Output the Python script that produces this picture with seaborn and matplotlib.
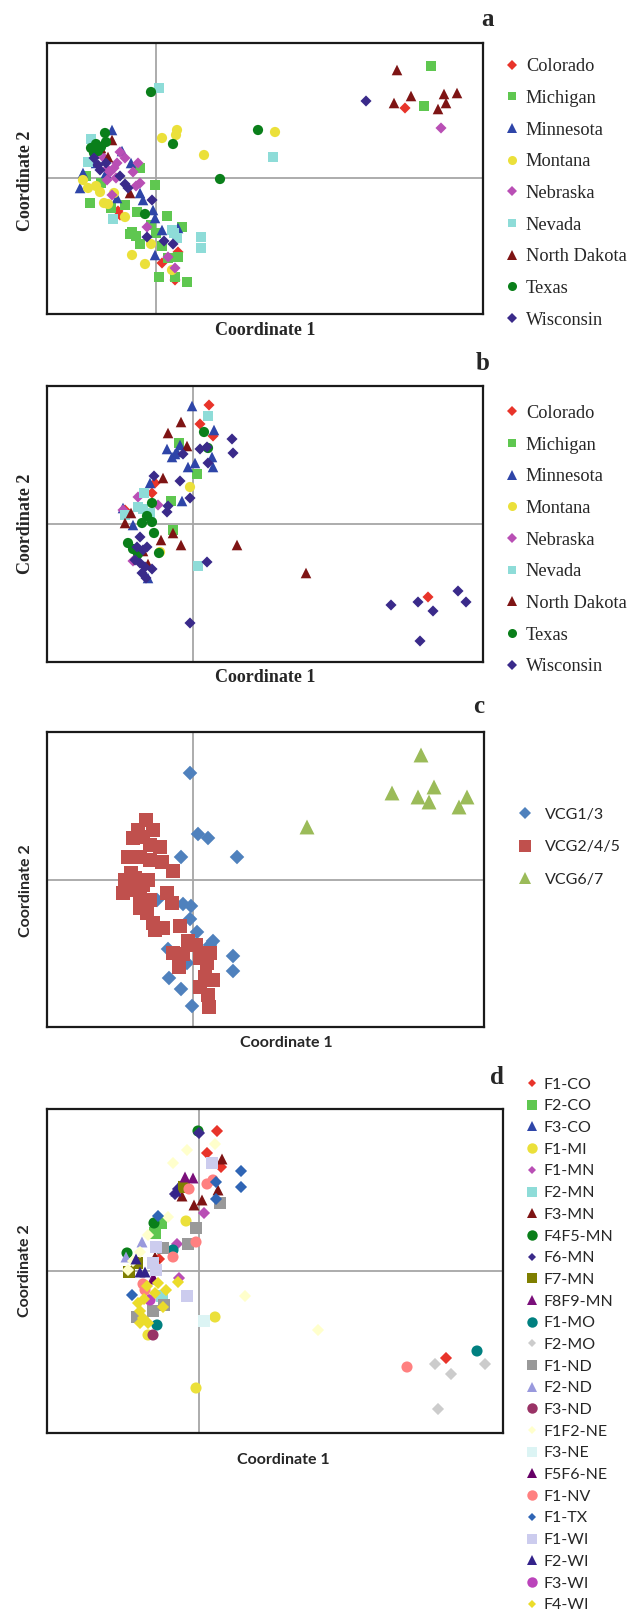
import numpy as np
import pandas as pd
import seaborn as sns
import matplotlib.pyplot as plt
from matplotlib.lines import Line2D

# ---- panel a / b : states ----
STATES = ["Colorado", "Michigan", "Minnesota", "Montana", "Nebraska",
          "Nevada", "North Dakota", "Texas", "Wisconsin"]
STATE_COLORS = ["#e8342a", "#5fc750", "#2e45a8", "#ebe03a", "#b94fb5",
                "#8edcd8", "#7e1414", "#0a7f1a", "#3a2a8a"]
STATE_MARKERS = ["D", "s", "^", "o", "D", "s", "^", "o", "D"]

A_COLORADO = [(-0.38, -0.33), (-0.36, -0.37), (0.06, -0.85), (0.19, -1.02), (0.22, -0.74), (2.49, 0.70)]
A_MICHIGAN = [(-0.01, -0.07), (-0.66, -0.25), (-0.31, -0.27), (-0.19, -0.34), (0.11, -0.38), (0.26, -0.49),
              (-0.24, -0.54), (-0.20, -0.58), (-0.16, -0.66), (-0.26, -0.56), (0.03, -0.99), (0.31, -1.04),
              (0.19, -0.99), (0.22, -0.79), (-0.16, 0.10), (-0.70, 0.02), (-0.55, -0.05), (0.06, -0.68),
              (0.12, -0.80), (-0.05, -0.47), (0.00, -0.55), (-0.60, 0.30), (-0.45, -0.30),
              (2.75, 1.12), (2.68, 0.72)]
A_MINNESOTA = [(-0.44, 0.48), (-0.73, 0.05), (-0.76, -0.10), (-0.39, -0.20), (-0.16, -0.15), (-0.13, -0.22),
               (-0.03, -0.32), (-0.01, -0.40), (0.06, -0.52), (0.22, -0.50), (-0.01, -0.77), (-0.34, 0.27),
               (-0.25, 0.15), (-0.60, 0.15), (-0.50, 0.05)]
A_MONTANA = [(0.06, 0.40), (0.21, 0.48), (0.20, 0.43), (0.48, 0.23), (1.19, 0.46), (-0.73, -0.02),
             (-0.68, -0.10), (-0.56, -0.14), (-0.52, -0.25), (-0.48, -0.26), (-0.31, -0.39), (-0.24, -0.77),
             (-0.11, -0.86), (-0.05, -0.66), (0.16, -0.92), (-0.42, -0.15), (-0.60, -0.08)]
A_NEBRASKA = [(-0.36, 0.26), (-0.31, 0.20), (-0.18, 0.15), (-0.23, 0.06), (-0.49, -0.02), (-0.46, 0.06),
              (-0.16, -0.05), (-0.44, -0.17), (-0.09, -0.49), (0.12, -0.79), (0.19, -0.90), (-0.39, 0.15),
              (-0.49, 0.09), (-0.42, 0.10), (-0.52, 0.20), (-0.58, 0.25), (-0.40, 0.00), (-0.20, -0.08),
              (2.85, 0.50)]
A_NEVADA = [(0.03, 0.90), (1.17, 0.21), (0.45, -0.59), (0.45, -0.70), (-0.65, 0.39), (-0.68, 0.16),
            (-0.43, -0.41), (0.16, -0.52), (0.21, -0.60), (0.18, -0.55)]
A_NORTH_DAKOTA = [(-0.44, 0.38), (-0.48, 0.21), (-0.26, -0.15), (-0.55, 0.30), (2.41, 1.08), (2.38, 0.75),
                  (2.55, 0.82), (2.88, 0.84), (3.01, 0.85), (2.90, 0.75), (2.82, 0.69)]
A_TEXAS = [(-0.05, 0.86), (-0.51, 0.45), (0.17, 0.34), (1.02, 0.48), (0.64, -0.01), (-0.11, -0.36),
           (-0.65, 0.30), (-0.60, 0.34), (-0.55, 0.31), (-0.50, 0.36), (-0.58, 0.27), (-0.62, 0.25)]
A_WISCONSIN = [(-0.58, 0.13), (-0.56, 0.08), (-0.31, -0.06), (-0.28, -0.10), (-0.04, -0.22), (-0.09, -0.59),
               (0.08, -0.63), (0.17, -0.66), (-0.62, 0.20), (-0.50, 0.15), (-0.36, 0.02), (2.10, 0.77)]

B_COLORADO = [(0.16, 1.19), (0.07, 1.00), (0.20, 0.88), (-0.38, 0.41), (-0.41, 0.31), (-0.68, 0.14), (2.35, -0.73)]
B_MICHIGAN = [(-0.14, 0.81), (0.04, 0.50), (-0.22, 0.23), (-0.20, -0.06)]
B_MINNESOTA = [(-0.01, 1.18), (0.21, 0.94), (-0.13, 0.79), (-0.21, 0.67), (-0.18, 0.70), (-0.05, 0.57),
               (0.02, 0.61), (0.19, 0.67), (0.20, 0.57), (-0.43, 0.41), (-0.11, 0.23), (-0.70, 0.16),
               (-0.60, -0.01), (-0.45, -0.54), (-0.26, 0.75), (-0.16, 0.72)]
B_MONTANA = [(-0.03, 0.37), (-0.33, -0.28)]
B_NEBRASKA = [(-0.55, 0.27), (-0.35, 0.19), (-0.70, 0.14), (-0.60, -0.37)]
B_NEVADA = [(0.15, 1.08), (-0.49, 0.31), (-0.55, 0.17), (-0.43, 0.11), (-0.68, 0.09), (-0.50, 0.15), (0.05, -0.42)]
B_NORTH_DAKOTA = [(-0.12, 1.02), (-0.25, 0.91), (-0.06, 0.78), (-0.30, 0.46), (-0.62, 0.11), (-0.68, 0.01),
                  (-0.20, -0.09), (-0.32, -0.16), (-0.12, -0.21), (0.44, -0.21), (1.13, -0.49),
                  (-0.55, -0.35), (-0.50, -0.27), (-0.45, -0.40)]
B_TEXAS = [(0.11, 0.92), (0.15, 0.76), (-0.41, 0.21), (-0.46, 0.08), (-0.41, 0.02), (-0.51, 0.01),
           (-0.39, -0.09), (-0.65, -0.19), (-0.34, -0.29), (-0.60, -0.25), (-0.55, -0.30)]
B_WISCONSIN = [(0.39, 0.85), (0.40, 0.71), (0.07, 0.75), (0.14, 0.77), (-0.10, 0.70), (0.15, 0.61),
               (-0.39, 0.48), (-0.13, 0.43), (-0.03, 0.26), (-0.25, 0.18), (-0.26, 0.12), (0.14, -0.38),
               (-0.03, -0.99), (-0.53, -0.13), (-0.56, -0.23), (-0.50, -0.26), (-0.46, -0.23), (-0.58, -0.36),
               (-0.53, -0.39), (-0.48, -0.43), (-0.41, -0.45), (-0.47, -0.54), (-0.51, -0.49),
               (1.98, -0.81), (2.25, -0.78), (2.40, -0.87), (2.65, -0.67), (2.73, -0.78), (2.27, -1.17)]

# ---- panel c : VCG ----
VCGS = ["VCG1/3", "VCG2/4/5", "VCG6/7"]
VCG_COLORS = ["#4f81bd", "#c0504d", "#9bbb59"]
VCG_MARKERS = ["D", "s", "^"]
C_VCG13 = [(-0.03, 1.07), (0.05, 0.46), (0.15, 0.42), (-0.12, 0.23), (0.44, 0.23), (-0.10, -0.24),
           (-0.02, -0.26), (-0.03, -0.39), (0.04, -0.52), (0.20, -0.61), (-0.25, -0.69), (-0.06, -0.83),
           (0.40, -0.76), (0.40, -0.91), (-0.24, -0.98), (-0.12, -1.09), (-0.01, -1.26), (-0.36, -0.20),
           (0.17, -0.65)]
C_VCG245 = [(-0.47, 0.60), (-0.40, 0.50), (-0.60, 0.42), (-0.50, 0.43), (-0.33, 0.33), (-0.43, 0.35),
            (-0.65, 0.23), (-0.53, 0.23), (-0.43, 0.20), (-0.31, 0.18), (-0.20, 0.09), (-0.68, 0.00),
            (-0.58, 0.02), (-0.45, 0.00), (-0.70, -0.13), (-0.60, -0.10), (-0.53, -0.18), (-0.43, -0.20),
            (-0.26, -0.13), (-0.21, -0.23), (-0.53, -0.28), (-0.46, -0.33), (-0.40, -0.43), (-0.38, -0.50),
            (-0.30, -0.48), (-0.13, -0.46), (-0.05, -0.61), (0.03, -0.65), (-0.20, -0.73), (-0.10, -0.74),
            (0.07, -0.78), (0.17, -0.73), (-0.14, -0.87), (0.14, -0.83), (0.12, -0.97), (0.20, -1.00),
            (0.07, -1.07), (0.15, -1.15), (0.16, -1.27), (-0.55, 0.50), (-0.62, 0.07), (-0.50, -0.05)]
C_VCG67 = [(2.28, 1.25), (1.99, 0.87), (2.25, 0.83), (2.41, 0.93), (2.36, 0.78), (2.66, 0.73),
           (2.74, 0.83), (1.14, 0.53)]

# ---- panel d : populations ----
POPS = ["F1-CO", "F2-CO", "F3-CO", "F1-MI", "F1-MN", "F2-MN", "F3-MN", "F4F5-MN", "F6-MN",
        "F7-MN", "F8F9-MN", "F1-MO", "F2-MO", "F1-ND", "F2-ND", "F3-ND", "F1F2-NE", "F3-NE",
        "F5F6-NE", "F1-NV", "F1-TX", "F1-WI", "F2-WI", "F3-WI", "F4-WI"]
POP_COLORS = ["#e8342a", "#5fc750", "#2e45a8", "#ebe03a", "#b94fb5", "#8edcd8", "#7e1414", "#0a7f1a",
              "#3a2a8a", "#7f7f00", "#7a0f7a", "#008080", "#cccccc", "#999999", "#9999dd", "#993366",
              "#ffffcc", "#dcf4f4", "#660066", "#ff8080", "#2f65b5", "#ccccee", "#33228a", "#bb44bb",
              "#ebdc2a"]
POP_MARKERS = ["D", "s", "^", "o", "D", "s", "^", "o", "D", "s", "^", "o", "D", "s", "^", "o",
               "D", "s", "^", "o", "D", "s", "^", "o", "D"]
D_F1_CO = [(0.18, 1.40), (0.08, 1.18), (0.22, 1.04), (2.47, -0.87), (-0.40, 0.12)]
D_F2_CO = [(-0.38, 0.48), (-0.44, 0.38)]
D_F3_CO = [(-0.20, 0.85)]
D_F1_MI = [(-0.13, 0.50), (0.16, -0.46), (-0.03, -1.17), (-0.51, -0.64)]
D_F1_MN = [(0.05, 0.58), (-0.22, 0.27), (-0.20, -0.07), (-0.50, -0.29)]
D_F2_MN = [(-0.37, -0.25)]
D_F3_MN = [(0.23, 1.12), (0.19, 0.81), (0.03, 0.71), (-0.05, 0.66), (-0.17, 0.75), (-0.44, 0.14)]
D_F4F5_MN = [(-0.01, 1.40), (-0.45, 0.48), (-0.72, 0.18)]
D_F6_MN = [(0.00, 1.38), (-0.24, 0.77), (-0.21, 0.82)]
D_F7_MN = [(-0.15, 0.84), (-0.70, -0.01), (-0.62, 0.08)]
D_F8F9_MN = [(-0.14, 0.94), (-0.06, 0.93), (-0.46, -0.07)]
D_F1_MO = [(-0.26, 0.21), (-0.42, -0.54), (2.78, -0.80)]
D_F2_MO = [(2.36, -0.93), (2.52, -1.03), (2.86, -0.93), (2.39, -1.38)]
D_F1_ND = [(0.21, 0.68), (-0.03, 0.43), (-0.11, 0.27), (-0.36, 0.23), (-0.35, -0.34), (-0.62, -0.46), (-0.46, -0.40)]
D_F2_ND = [(-0.57, 0.29), (-0.73, 0.14)]
D_F3_ND = [(-0.46, -0.64)]
D_F1F2_NE = [(-0.12, 1.21), (-0.26, 1.08), (0.16, 1.27), (-0.31, 0.54), (-0.51, 0.36), (-0.59, 0.19),
             (0.46, -0.25), (1.19, -0.59), (-0.66, 0.10), (-0.71, 0.01)]
D_F3_NE = [(0.05, -0.50)]
D_F5F6_NE = [(-0.45, -0.08)]
D_F1_NV = [(-0.10, 0.82), (0.08, 0.87), (0.14, 0.91), (-0.03, 0.29), (-0.26, 0.14), (-0.54, -0.19),
           (-0.56, -0.13), (2.08, -0.96)]
D_F1_TX = [(0.42, 1.00), (0.42, 0.84), (0.17, 0.89), (0.17, 0.72), (-0.41, 0.55), (-0.67, -0.24)]
D_F1_WI = [(0.13, 1.08), (-0.43, 0.24), (-0.46, 0.08), (-0.43, 0.01), (-0.12, -0.25)]
D_F2_WI = [(-0.59, -0.01), (-0.54, -0.01), (-0.23, 0.80), (-0.63, 0.12)]
D_F3_WI = [(-0.49, -0.29)]
D_F4_WI = [(-0.52, -0.15), (-0.41, -0.12), (-0.33, -0.19), (-0.44, -0.22), (-0.21, -0.11), (-0.36, -0.36),
           (-0.61, -0.32), (-0.59, -0.40), (-0.56, -0.47), (-0.51, -0.52), (-0.59, -0.52), (-0.55, -0.28)]

sns.set_style("white")
SERIF = "Liberation Serif"
SANS = "Lato"
plt.rcParams["font.family"] = [SERIF, "DejaVu Sans"]

MARKER_S = {"D": 32, "s": 58, "^": 58, "o": 54}
MARKER_S_D = {"D": 38, "s": 64, "^": 62, "o": 64}
MARKER_S_C = {"D": 55, "s": 115, "^": 115, "o": 100}


def scatter_panel(ax, groups, points, colors, markers, size_map):
    rows = [(g, x, y) for g, pts in zip(groups, points) for x, y in pts]
    df = pd.DataFrame(rows, columns=["group", "x", "y"])
    sns.scatterplot(data=df, x="x", y="y", hue="group", style="group", size="group",
                    hue_order=groups, style_order=groups, size_order=groups,
                    palette=dict(zip(groups, colors)), markers=dict(zip(groups, markers)),
                    sizes={g: size_map[m] for g, m in zip(groups, markers)},
                    linewidth=0, legend=False, ax=ax, zorder=3)


def frame(ax, xlim, ylim):
    ax.set_xlim(xlim)
    ax.set_ylim(ylim)
    ax.axhline(0, color="#a6a6a6", lw=1.3, zorder=1)
    ax.axvline(0, color="#a6a6a6", lw=1.3, zorder=1)
    ax.set_xticks([])
    ax.set_yticks([])
    for sp in ax.spines.values():
        sp.set_color("#1a1a1a")
        sp.set_linewidth(1.6)


def add_legend(ax, groups, colors, markers, ms_map, anchor, family, fs, spacing, pad, hl=0.7):
    handles = [Line2D([], [], ls="", marker=m, markerfacecolor=c, markeredgewidth=0,
                      markersize=ms_map[m]) for c, m in zip(colors, markers)]
    ax.legend(handles, groups, loc="center left", bbox_to_anchor=anchor, frameon=False,
              prop={"family": family, "size": fs}, labelspacing=spacing, handletextpad=pad,
              handlelength=hl, borderaxespad=0, borderpad=0)


def label_axes(ax, family, fs, xpos, ypos):
    ax.set_xlabel("Coordinate 1", fontfamily=family, fontweight="bold", fontsize=fs)
    ax.set_ylabel("Coordinate 2", fontfamily=family, fontweight="bold", fontsize=fs)
    ax.xaxis.set_label_coords(*xpos)
    ax.yaxis.set_label_coords(*ypos)


fig = plt.figure(figsize=(6.3, 16.14), dpi=100)
W, H = 630, 1614


def place(left, top, right, bottom):
    return fig.add_axes([left / W, 1 - bottom / H, (right - left) / W, (bottom - top) / H])


ax_a = place(47, 43, 483, 314)
ax_b = place(47, 386, 483, 662)
ax_c = place(47, 732, 484, 1027)
ax_d = place(47, 1109, 503, 1433)

LEG_MS = {"D": 4.6, "s": 6.3, "^": 6.5, "o": 6.5}
LEG_MS_C = {"D": 6.0, "s": 8.5, "^": 9.0, "o": 8.0}
LEG_MS_D = {"D": 4.3, "s": 7.0, "^": 7.5, "o": 7.5}

# a
scatter_panel(ax_a, STATES, [A_COLORADO, A_MICHIGAN, A_MINNESOTA, A_MONTANA, A_NEBRASKA, A_NEVADA,
                             A_NORTH_DAKOTA, A_TEXAS, A_WISCONSIN],
              STATE_COLORS, STATE_MARKERS, MARKER_S)
frame(ax_a, (-1.09, 3.27), (-1.36, 1.35))
add_legend(ax_a, STATES, STATE_COLORS, STATE_MARKERS, LEG_MS, (1.054, 0.445), SERIF, 13.2, 0.80, 0.45, 0.6)
label_axes(ax_a, SERIF, 13, (0.5, -0.03), (-0.03, 0.49))

# b
scatter_panel(ax_b, STATES, [B_COLORADO, B_MICHIGAN, B_MINNESOTA, B_MONTANA, B_NEBRASKA, B_NEVADA,
                             B_NORTH_DAKOTA, B_TEXAS, B_WISCONSIN],
              STATE_COLORS, STATE_MARKERS, MARKER_S)
frame(ax_b, (-1.46, 2.90), (-1.38, 1.38))
add_legend(ax_b, STATES, STATE_COLORS, STATE_MARKERS, LEG_MS, (1.054, 0.442), SERIF, 13.2, 0.80, 0.45, 0.6)
label_axes(ax_b, SERIF, 13, (0.5, -0.025), (-0.03, 0.5))

# c
scatter_panel(ax_c, VCGS, [C_VCG13, C_VCG245, C_VCG67], VCG_COLORS, VCG_MARKERS, MARKER_S_C)
frame(ax_c, (-1.46, 2.91), (-1.47, 1.48))
add_legend(ax_c, VCGS, VCG_COLORS, VCG_MARKERS, LEG_MS_C, (1.079, 0.61), SANS, 11.5, 1.15, 0.85, 0.8)
label_axes(ax_c, SANS, 11.5, (0.547, -0.03), (-0.032, 0.461))

# d
scatter_panel(ax_d, POPS, [D_F1_CO, D_F2_CO, D_F3_CO, D_F1_MI, D_F1_MN, D_F2_MN, D_F3_MN, D_F4F5_MN,
                           D_F6_MN, D_F7_MN, D_F8F9_MN, D_F1_MO, D_F2_MO, D_F1_ND, D_F2_ND, D_F3_ND,
                           D_F1F2_NE, D_F3_NE, D_F5F6_NE, D_F1_NV, D_F1_TX, D_F1_WI, D_F2_WI,
                           D_F3_WI, D_F4_WI],
              POP_COLORS, POP_MARKERS, MARKER_S_D)
frame(ax_d, (-1.52, 3.04), (-1.62, 1.62))
add_legend(ax_d, POPS, POP_COLORS, POP_MARKERS, LEG_MS_D, (1.0496, 0.272), SANS, 11.5, 0.47, 0.3, 0.8)
label_axes(ax_d, SANS, 11.5, (0.518, -0.062), (-0.032, 0.5))

for letter, (px, py) in zip("abcd", [(487, 20), (483, 364), (479, 706), (497, 1078)]):
    fig.text(px / W, 1 - py / H, letter, ha="center", va="center",
             fontfamily=SERIF, fontweight="bold", fontsize=18)

fig.savefig("out.png", dpi=100)
